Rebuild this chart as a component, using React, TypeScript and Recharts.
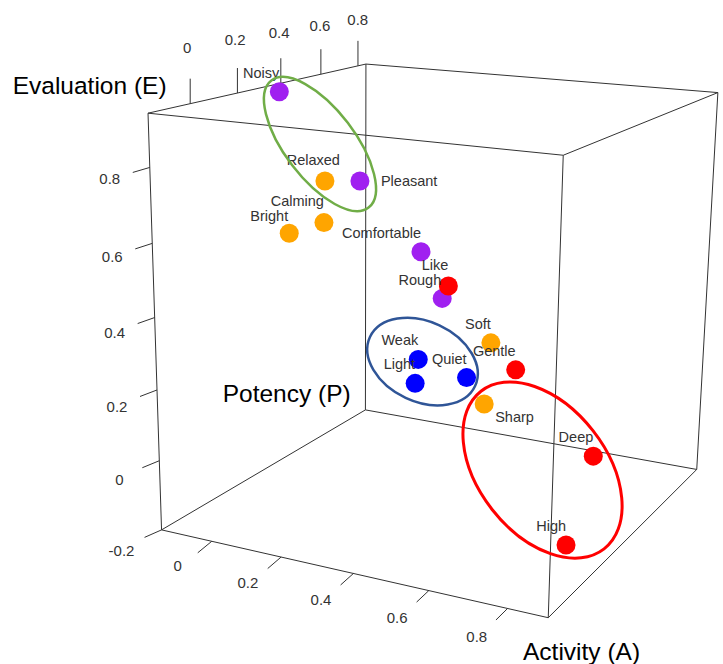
import React from 'react';
import { ScatterChart, Scatter, XAxis, YAxis, ReferenceLine, Customized } from 'recharts';

const WIDTH = 723;
const HEIGHT = 664;

// axis ranges of the 3D box
const A_MIN = -0.15, A_MAX = 0.9;
const P_MIN = -0.165, P_MAX = 0.845;
const E_MIN = -0.2, E_MAX = 0.94;

const aTicks = [0, 0.2, 0.4, 0.6, 0.8];
const pTicks = [0, 0.2, 0.4, 0.6, 0.8];
const eTicks = [-0.2, 0, 0.2, 0.4, 0.6, 0.8];

// data
const words = ['Noisy', 'Relaxed', 'Pleasant', 'Calming', 'Bright', 'Comfortable', 'Rough', 'Like', 'Soft', 'Gentle', 'Weak', 'Light', 'Quiet', 'Sharp', 'Deep', 'High'];
const activity = [-0.142, 0.044, 0.147, 0.071, -0.001, 0.297, 0.308, 0.351, 0.523, 0.570, 0.452, 0.471, 0.556, 0.556, 0.749, 0.827];
const potency = [0.38, 0.30, 0.30, 0.25, 0.20, 0.35, 0.45, 0.40, 0.30, 0.35, 0.05, 0.00, 0.10, 0.20, 0.45, 0.10];
const evaluation = [0.919, 0.696, 0.707, 0.591, 0.563, 0.514, 0.354, 0.410, 0.300, 0.215, 0.318, 0.272, 0.270, 0.164, -0.040, -0.140];
const groups = ['purple', 'orange', 'purple', 'orange', 'orange', 'purple', 'purple', 'red', 'orange', 'red', 'blue', 'blue', 'blue', 'orange', 'red', 'red'];

// highlighted clusters
const clusterMembers = [
  ['Noisy', 'Relaxed', 'Pleasant'],
  ['Weak', 'Light', 'Quiet'],
  ['Sharp', 'Deep', 'High'],
];

// ---- styles ----
const COLORS: Record<string, string> = { purple: '#A020F0', orange: '#FFA500', red: '#FF0000', blue: '#0000FF' };
const FONT = '"Liberation Sans", Arial, Helvetica, sans-serif';
const CLUSTER_STYLE = [
  { dx: -1.4, dy: -7.2, rx: 80, ry: 35, angle: 52.6, stroke: '#70AD47', width: 2.5 },
  { dx: -10.8, dy: -11.9, rx: 58, ry: 40, angle: 25, stroke: '#2F5597', width: 2.5 },
  { dx: -5.3, dy: 1.7, rx: 100, ry: 64, angle: 52, stroke: '#FF0000', width: 3 },
];
const LABEL_STYLE: Record<string, { anchor: string; dx: number; dy: number }> = {
  Pleasant: { anchor: 'start', dx: 21, dy: 5 },
  Sharp: { anchor: 'start', dx: 11, dy: 18 },
  Relaxed: { anchor: 'end', dx: 15, dy: -16 },
  Calming: { anchor: 'end', dx: 0, dy: -17 },
  Bright: { anchor: 'end', dx: -1, dy: -12 },
  Like: { anchor: 'end', dx: 0, dy: -16 },
  Rough: { anchor: 'end', dx: -1, dy: -13 },
};
const DEFAULT_LABEL = { anchor: 'end', dx: 0, dy: -14 };

// frame anchors: normalized box corner (A, P, E in 0..1) -> screen px (camera fit)
const FRAME: number[][] = [
  [0, 0, 0, 162, 530],
  [0, 0, 1, 148, 113],
  [1, 0, 0, 548, 618],
  [1, 0, 1, 563, 155],
  [0, 1, 0, 365, 410],
  [0, 1, 1, 366, 64],
  [1, 1, 0, 697, 469],
  [1, 1, 1, 718, 93],
];

function solveLinear(M: number[][], b: number[]): number[] {
  const n = b.length;
  const a = M.map((row, i) => [...row, b[i]]);
  for (let c = 0; c < n; c++) {
    let p = c;
    for (let r = c + 1; r < n; r++) if (Math.abs(a[r][c]) > Math.abs(a[p][c])) p = r;
    const tmp = a[c]; a[c] = a[p]; a[p] = tmp;
    for (let r = 0; r < n; r++) {
      if (r === c) continue;
      const f = a[r][c] / a[c][c];
      for (let k = c; k <= n; k++) a[r][k] -= f * a[c][k];
    }
  }
  return a.map((row, i) => row[n] / row[i]);
}

function fitCamera(): number[] {
  const rows: number[][] = [];
  const rhs: number[] = [];
  for (const [X, Y, Z, x, y] of FRAME) {
    rows.push([X, Y, Z, 1, 0, 0, 0, 0, -x * X, -x * Y, -x * Z]); rhs.push(x);
    rows.push([0, 0, 0, 0, X, Y, Z, 1, -y * X, -y * Y, -y * Z]); rhs.push(y);
  }
  const n = 11;
  const M = Array.from({ length: n }, () => new Array(n).fill(0));
  const b = new Array(n).fill(0);
  rows.forEach((row, k) => {
    for (let i = 0; i < n; i++) {
      for (let j = 0; j < n; j++) M[i][j] += row[i] * row[j];
      b[i] += row[i] * rhs[k];
    }
  });
  return solveLinear(M, b);
}
const CAM = fitCamera();

function projectNorm(u: number, v: number, w: number): [number, number] {
  const m = CAM;
  const d = m[8] * u + m[9] * v + m[10] * w + 1;
  return [(m[0] * u + m[1] * v + m[2] * w + m[3]) / d, (m[4] * u + m[5] * v + m[6] * w + m[7]) / d];
}
function project(a: number, p: number, e: number): [number, number] {
  return projectNorm((a - A_MIN) / (A_MAX - A_MIN), (p - P_MIN) / (P_MAX - P_MIN), (e - E_MIN) / (E_MAX - E_MIN));
}

const fmt = (t: number) => (Math.abs(t) < 1e-9 ? '0' : String(t));

export default function App() {
  const pts = words.map((name, i) => {
    const [x, y] = project(activity[i], potency[i], evaluation[i]);
    return { x, y, name, g: groups[i] };
  });

  const corners: Record<string, [number, number]> = {};
  for (const u of [0, 1]) for (const v of [0, 1]) for (const w of [0, 1]) corners[`${u}${v}${w}`] = projectNorm(u, v, w);
  const edges: [string, string][] = [
    ['000', '100'], ['010', '110'], ['001', '101'], ['011', '111'],
    ['000', '010'], ['100', '110'], ['001', '011'], ['101', '111'],
    ['000', '001'], ['100', '101'], ['010', '011'], ['110', '111'],
  ];

  // tick roots on the box edges
  const eTickData = eTicks.map((t) => {
    const [x, y] = project(A_MIN, P_MIN, t);
    return { x, y, t, tx: x - 17, ty: y + 7 - 2.5 * t, lx: x - 40, ly: y + 19 - 10 * t };
  });
  const pTickData = pTicks.map((t) => {
    const [x, y] = project(A_MIN, t, E_MAX);
    return { x, y, t, tx: x, ty: y - 25, lx: x - 3 + 3.5 * t, ly: y - 56 + 12.5 * t };
  });
  const aTickData = aTicks.map((t) => {
    const [x, y] = project(t, P_MIN, E_MIN);
    return { x, y, t, tx: x - 14 + 3 * t, ty: y + 11.5, lx: x - 34 + 4 * t, ly: y + 24.5 + 5 * t };
  });
  const allTicks = [...eTickData, ...pTickData, ...aTickData];
  const tickLabels = allTicks.map((d) => ({ x: d.lx, y: d.ly, text: fmt(d.t) }));

  const clusters = clusterMembers.map((members, k) => {
    const m = pts.filter((p) => members.includes(p.name));
    const cx = m.reduce((s, p) => s + p.x, 0) / m.length;
    const cy = m.reduce((s, p) => s + p.y, 0) / m.length;
    const st = CLUSTER_STYLE[k];
    return { x: cx + st.dx, y: cy + st.dy, k };
  });

  const titles = () => (
    <g fontFamily={FONT} fontSize={24.5} fill="#000">
      <text x={12.7} y={94}>Evaluation (E)</text>
      <text x={222.7} y={402}>Potency (P)</text>
      <text x={523} y={660}>Activity (A)</text>
    </g>
  );

  return (
    <div>
      <style>{`body{margin:0}`}</style>
      <ScatterChart width={WIDTH} height={HEIGHT} margin={{ top: 0, right: 0, bottom: 0, left: 0 }}>
        <XAxis type="number" dataKey="x" domain={[0, WIDTH]} hide allowDataOverflow />
        <YAxis type="number" dataKey="y" domain={[0, HEIGHT]} reversed hide allowDataOverflow />
        {edges.map(([a, b], i) => (
          <ReferenceLine key={`e${i}`} ifOverflow="visible" stroke="#333" strokeWidth={1}
            segment={[{ x: corners[a][0], y: corners[a][1] }, { x: corners[b][0], y: corners[b][1] }]} />
        ))}
        {allTicks.map((d, i) => (
          <ReferenceLine key={`t${i}`} ifOverflow="visible" stroke="#333" strokeWidth={1}
            segment={[{ x: d.x, y: d.y }, { x: d.tx, y: d.ty }]} />
        ))}
        <Scatter data={tickLabels} isAnimationActive={false}
          shape={(props: any) => (
            <text x={props.cx} y={props.cy + 5.3} textAnchor="middle" fontFamily={FONT} fontSize={15} fill="#333">
              {props.payload.text}
            </text>
          )} />
        <Customized component={titles} />
        <Scatter data={pts} isAnimationActive={false}
          shape={(props: any) => <circle cx={props.cx} cy={props.cy} r={9.5} fill={COLORS[props.payload.g]} />} />
        <Scatter data={pts} isAnimationActive={false}
          shape={(props: any) => {
            const st = LABEL_STYLE[props.payload.name] || DEFAULT_LABEL;
            return (
              <text x={props.cx + st.dx} y={props.cy + st.dy} textAnchor={st.anchor} fontFamily={FONT} fontSize={14.5} fill="#333">
                {props.payload.name}
              </text>
            );
          }} />
        <Scatter data={clusters} isAnimationActive={false}
          shape={(props: any) => {
            const st = CLUSTER_STYLE[props.payload.k];
            return (
              <ellipse cx={props.cx} cy={props.cy} rx={st.rx} ry={st.ry} fill="none" stroke={st.stroke} strokeWidth={st.width}
                transform={`rotate(${st.angle} ${props.cx} ${props.cy})`} />
            );
          }} />
      </ScatterChart>
    </div>
  );
}
